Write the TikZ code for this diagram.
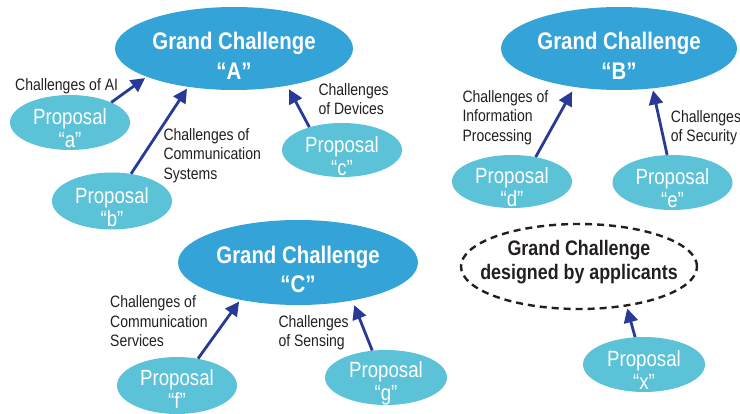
\documentclass[tikz,border=0pt]{standalone}
\usepackage{fontspec}
\setmainfont{Liberation Sans}[FakeStretch=0.85]
\usetikzlibrary{shapes.geometric,arrows.meta}
\definecolor{gcblue}{RGB}{51,163,216}
\definecolor{propcyan}{RGB}{91,194,216}
\definecolor{arrblue}{RGB}{40,58,150}
\definecolor{txtgray}{RGB}{35,31,32}
\begin{document}
\begin{tikzpicture}[x=1pt,y=-1pt,
  big/.style={ellipse,fill=gcblue,minimum width=238pt,minimum height=83pt,inner sep=0pt},
  gtxt/.style={text=white,align=center,inner sep=0pt,yshift=-7pt,font=\bfseries\fontsize{24}{30}\selectfont},
  prop/.style={ellipse,fill=propcyan,minimum width=120pt,minimum height=55pt,inner sep=0pt},
  ptxt/.style={text=white,align=center,inner sep=0pt,yshift=-6pt,font=\fontsize{22}{23}\selectfont},
  lbl/.style={anchor=north west,align=left,inner sep=0pt,text=txtgray,font=\fontsize{16.5}{19.5}\selectfont},
  arr/.style={draw=arrblue,line width=2.8pt,-{Triangle[length=14pt,width=14pt]},shorten >=2pt}]
\useasboundingbox (0,0) rectangle (740,414);
% grand challenges
\node[big,label={[gtxt]center:{Grand Challenge\\“A”}}] (ga) at (234,48.5) {};
\node[big,minimum width=236pt,label={[gtxt]center:{Grand Challenge\\“B”}}] (gb) at (619,48.5) {};
\node[big,minimum width=240pt,minimum height=85pt,label={[gtxt,font=\bfseries\fontsize{24}{29}\selectfont]center:{Grand Challenge\\“C”}}] (gc) at (298,262.5) {};
\node[ellipse,draw=txtgray,line width=2.4pt,dash pattern=on 7pt off 5pt,minimum width=236pt,minimum height=85pt,inner sep=0pt,
  label={[align=center,inner sep=0pt,yshift=4pt,text=txtgray,font=\bfseries\fontsize{21}{24}\selectfont]center:{Grand Challenge\\designed by applicants}}] (gx) at (579,266.5) {};
% proposals
\node[prop,label={[ptxt]center:{Proposal\\“a”}}] (pa) at (70,122.5) {};
\node[prop,minimum height=57pt,label={[ptxt]center:{Proposal\\“b”}}] (pb) at (112,201) {};
\node[prop,minimum height=54pt,label={[ptxt]center:{Proposal\\“c”}}] (pc) at (342,150) {};
\node[prop,minimum height=53pt,label={[ptxt]center:{Proposal\\“d”}}] (pd) at (512,181.5) {};
\node[prop,label={[ptxt]center:{Proposal\\“e”}}] (pe) at (672.5,182.5) {};
\node[prop,minimum height=57pt,label={[ptxt,yshift=2pt]center:{Proposal\\“f”}}] (pf) at (177,385.5) {};
\node[prop,minimum width=122pt,label={[ptxt]center:{Proposal\\“g”}}] (pg) at (386,377.5) {};
\node[prop,minimum width=122pt,label={[ptxt]center:{Proposal\\“x”}}] (px) at (644,364.5) {};
% arrows
\path[arr] (pa.26) -- (ga.198);
\path[arr] (pb.55) -- (ga.220);
\path[arr,shorten >=4pt] (pc.145) -- (ga.325);
\path[arr,shorten >=5pt] (pd.46) -- (gb.221);
\path[arr] (pe.101) -- (gb.310);
\path[arr] (pf.52) -- (gc.213);
\path[arr,shorten >=5pt] (pg.117) -- (gc.325);
\path[arr] (px.108) -- (gx.320);
% labels
\node[lbl] (la) at (15,78.3) {Challenges of AI};
\node[lbl] (lb) at (163.3,128.3) {Challenges of\\Communication\\Systems};
\node[lbl] (lc) at (318.3,83.3) {Challenges\\of Devices};
\node[lbl] (ld) at (462.3,90) {Challenges of\\Information\\Processing};
\node[lbl] (le) at (670.7,110) {Challenges\\of Security};
\node[lbl] (lf) at (110,295.7) {Challenges of\\Communication\\Services};
\node[lbl] (lg) at (278.3,315) {Challenges\\of Sensing};
\end{tikzpicture}
\end{document}
